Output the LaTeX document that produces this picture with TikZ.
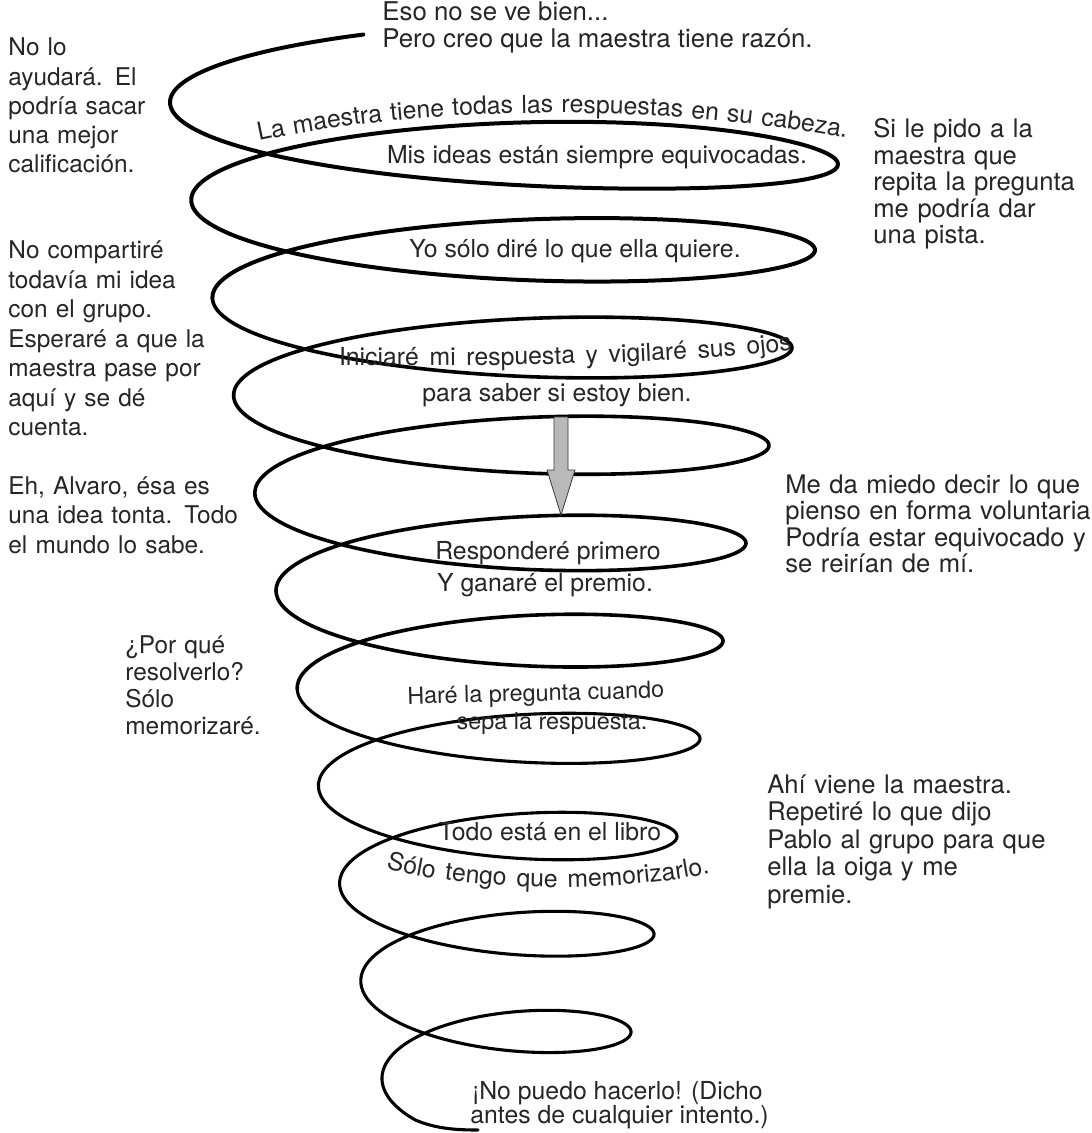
\documentclass[tikz,border=0pt]{standalone}
\usepackage{fontspec}
\setmainfont{TeX Gyre Heros}
\usetikzlibrary{decorations.text}
\definecolor{txt}{gray}{0.15}
\newcommand\ctrfont{\fontsize{12.4}{15}\selectfont}
\newcommand\smfont{\fontsize{11.7}{14}\selectfont}
\begin{document}
\begin{tikzpicture}[x=0.5pt,y=-0.5pt,
  declare function={
    sx(\t)=509.75-0.9*\t/6.2832-(339.75-22.1*\t/6.2832)*cos(\t r);
    sy(\t)=103+15.55*\t+(56-1.4*\t/6.2832)*sin(\t r)+12*exp(-((\t-3.1416)/1.1)^2);},
  txtnode/.style={inner sep=0pt, text=txt},
  para/.style={txtnode, anchor=base west, align=left, text width=200pt},
  lpara/.style={para, font=\fontsize{12.2}{14.6}\selectfont},
  rpara/.style={para, font=\fontsize{12.8}{13.2}\selectfont},
  ctr/.style={txtnode, anchor=base, font=\ctrfont},
  ctrw/.style={txtnode, anchor=base west, font=\ctrfont},
  spiral/.style={draw=black, line cap=round, line join=round},
  arrowfill/.style={fill=gray!55, draw=gray!45!black, line width=0.4pt},
  curvtext/.style={decorate, decoration={text along path, text align={fit to path stretching spaces}, text color=txt, text={#1}}}
]
\fill[white] (0,0) rectangle (1091,1133);
\useasboundingbox (0,0) rectangle (1091,1133);

% spiral
\draw[spiral, line width=2.0pt] plot[smooth, domain=-1.13:12.566, samples=220, variable=\t] ({sx(\t)},{sy(\t)});
\draw[spiral, line width=1.8pt] plot[smooth, domain=12.566:37.699, samples=400, variable=\t] ({sx(\t)},{sy(\t)});
\coordinate (send) at (478,1130);
\draw[spiral, line width=1.55pt] plot[smooth, domain=37.699:63.58, samples=400, variable=\t] ({sx(\t)},{sy(\t)})
  .. controls (436,1129) and (458,1130) .. (send);

% arrow
\coordinate (atop) at (561,417);
\coordinate (atip) at (561,515);
\filldraw[arrowfill] (554,417) -- (568,417) -- (568,470) -- (575,470) -- (atip) -- (547,470) -- (554,470) -- cycle;

% left texts
\node[lpara] (p1) at (8,56) {No lo\\ayudará. El\\podría sacar\\una mejor\\calificación.};
\node[lpara, font=\fontsize{12.2}{14.75}\selectfont] (p2) at (8,259) {No compartiré\\todavía mi idea\\con el grupo.\\Esperaré a que la\\maestra pase por\\aquí y se dé\\cuenta.};
\node[lpara, font=\fontsize{12.2}{14.75}\selectfont] (p3) at (8,494) {Eh, Alvaro, ésa es\\una idea tonta. Todo\\el mundo lo sabe.};
\node[lpara, font=\fontsize{12.2}{13.5}\selectfont] (p4) at (125,653) {¿Por qué\\resolverlo?\\Sólo\\memorizaré.};

% right texts
\node[rpara] (p5) at (873,138) {Si le pido a la\\maestra que\\repita la pregunta\\me podría dar\\una pista.};
\node[rpara, font=\fontsize{12.8}{13.25}\selectfont] (p6) at (785,493) {Me da miedo decir lo que\\pienso en forma voluntaria\\Podría estar equivocado y\\se reirían de mí.};
\node[rpara, font=\fontsize{12.8}{13.75}\selectfont] (p7) at (767,793) {Ahí viene la maestra.\\Repetiré lo que dijo\\Pablo al grupo para que\\ella la oiga y me\\premie.};

% central texts
\node[ctrw, font=\fontsize{12.9}{15}\selectfont] (t1) at (382,21) {Eso no se ve bien...};
\node[ctrw, font=\fontsize{12.9}{15}\selectfont] (t2) at (382,48) {Pero creo que la maestra tiene razón.};
\path[curvtext={|\ctrfont|La maestra tiene todas las respuestas en su cabeza.}] (259,141) .. controls (420,106) and (650,102) .. (846,138);
\node[ctr] (t3) at (597,164) {Mis ideas están siempre equivocadas.};
\node[ctr] (t4) at (575,258) {Yo sólo diré lo que ella quiere.};
\path[curvtext={|\ctrfont|Iniciaré mi respuesta y vigilaré sus ojos}] (339,366) .. controls (500,366) and (690,364) .. (792,350);
\node[ctr] (t6) at (557,401) {para saber si estoy bien.};
\node[ctr] (t7) at (548,559) {Responderé primero};
\node[ctr] (t8) at (545,591) {Y ganaré el premio.};
\node[ctr, font=\smfont, rotate=1.5] (t9) at (536,701) {Haré la pregunta cuando};
\node[ctr, font=\smfont] (t10) at (552,729) {sepa la respuesta.};
\node[ctr] (t11) at (550,840) {Todo está en el libro};
\path[curvtext={|\ctrfont|Sólo tengo que memorizarlo.}] (386,868) .. controls (470,892) and (620,893) .. (710,873);
\node[ctrw] (t13) at (472,1099) {¡No puedo hacerlo! (Dicho};
\node[ctrw] (t14) at (470,1123) {antes de cualquier intento.)};
\end{tikzpicture}
\end{document}
